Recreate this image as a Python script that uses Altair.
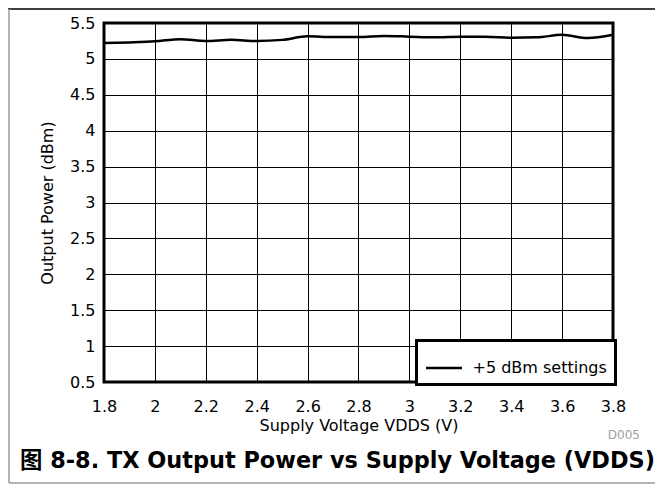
import altair as alt
import pandas as pd

# ---- data ----
vdds = [1.8, 1.9, 2.0, 2.1, 2.2, 2.3, 2.4, 2.5, 2.6, 2.7, 2.8, 2.9, 3.0,
        3.1, 3.2, 3.3, 3.4, 3.5, 3.6, 3.7, 3.8]
power = [5.22, 5.23, 5.245, 5.275, 5.25, 5.265, 5.25, 5.265, 5.315, 5.305,
         5.305, 5.32, 5.31, 5.30, 5.31, 5.31, 5.295, 5.30, 5.335, 5.29, 5.335]
series_name = "+5 dBm settings"
x_ticks = [1.8, 2.0, 2.2, 2.4, 2.6, 2.8, 3.0, 3.2, 3.4, 3.6, 3.8]
y_ticks = [0.5, 1, 1.5, 2, 2.5, 3, 3.5, 4, 4.5, 5, 5.5]
x_title = "Supply Voltage VDDS (V)"
y_title = "Output Power (dBm)"
fig_title = "图 8-8. TX Output Power vs Supply Voltage (VDDS)"
code_label = "D005"

FONT = "DejaVu Sans, Noto Sans CJK SC, sans-serif"
W, H = 509, 359

df = pd.DataFrame({"vdds": vdds, "power": power, "series": [series_name] * len(vdds)})

line = alt.Chart(df).mark_line(interpolate="monotone", strokeWidth=2.5).encode(
    x=alt.X("vdds:Q", scale=alt.Scale(domain=[1.8, 3.8], nice=False, zero=False),
            axis=alt.Axis(values=x_ticks, format="~g", title=x_title,
                          labelPadding=16, labelFlush=False, labelOverlap=False,
                          titleX=W / 2, titleY=48,
                          titleBaseline="alphabetic", titleAlign="center")),
    y=alt.Y("power:Q", scale=alt.Scale(domain=[0.5, 5.5], nice=False, zero=False),
            axis=alt.Axis(values=y_ticks, format="~g", title=y_title,
                          labelPadding=9, labelFlush=False, labelOverlap=False,
                          titleX=-52, titleY=H / 2,
                          titleBaseline="alphabetic", titleAlign="center", titleAngle=270)),
    color=alt.Color("series:N", scale=alt.Scale(range=["black"]),
                    legend=alt.Legend(title=None, orient="none", legendX=312.5, legendY=317.5,
                                      symbolType="stroke", symbolSize=1296,
                                      symbolStrokeWidth=2.5, labelOffset=9,
                                      labelFontSize=16, labelFont=FONT, labelColor="black",
                                      fillColor="white", strokeColor="black", padding=8)),
)

title_df = pd.DataFrame({"t": [fig_title]})
title = alt.Chart(title_df).mark_text(
    align="left", baseline="alphabetic", font=FONT, fontSize=22.4, fontWeight="bold", color="black"
).encode(text="t:N", x=alt.value(-84), y=alt.value(445))

code_df = pd.DataFrame({"t": [code_label]})
code = alt.Chart(code_df).mark_text(
    align="right", baseline="alphabetic", font=FONT, fontSize=12, color="#a0a0a0"
).encode(text="t:N", x=alt.value(536), y=alt.value(415.5))

frame_df = pd.DataFrame({"k": [0]})
top_line = alt.Chart(frame_df).mark_rule(color="black", strokeWidth=1.5).encode(
    x=alt.value(-96), x2=alt.value(551), y=alt.value(-14))
left_line = alt.Chart(frame_df).mark_rule(color="#9a9a9a", strokeWidth=1.5).encode(
    x=alt.value(-95), y=alt.value(-14), y2=alt.value(460))
bottom_line = alt.Chart(frame_df).mark_rule(color="#9a9a9a", strokeWidth=1.5).encode(
    x=alt.value(-95), x2=alt.value(551), y=alt.value(460))

chart = alt.layer(top_line, left_line, bottom_line, line, title, code).properties(
    width=W, height=H,
    padding={"left": 96, "top": 15, "right": 42, "bottom": 102},
    autosize=alt.AutoSizeParams(type="none"),
).configure_view(
    stroke="black", strokeWidth=3
).configure_axis(
    grid=True, gridColor="black", gridWidth=1, gridOpacity=1,
    domain=False, ticks=False, tickSize=0,
    labelFont=FONT, labelFontSize=16, labelColor="black",
    titleFont=FONT, titleFontSize=16, titleFontWeight="normal", titleColor="black",
).configure_legend(
    strokeWidth=3
)

chart.save("out.html", embed_options={"renderer": "svg", "actions": False})
